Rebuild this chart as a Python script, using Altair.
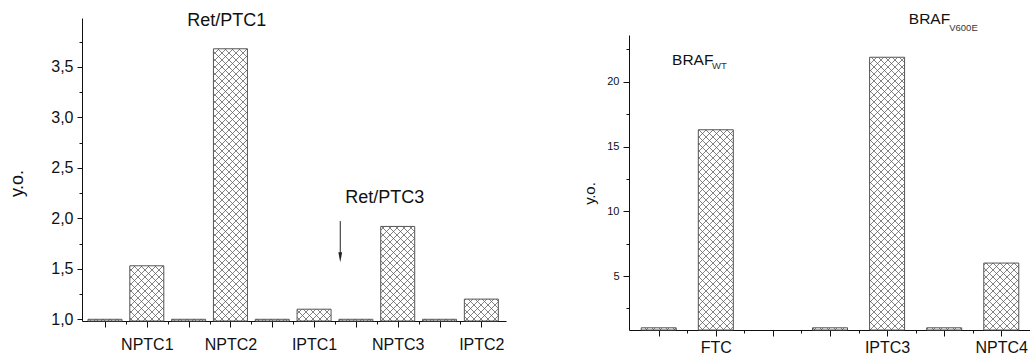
import json
import jinja2
import pandas as pd
import altair as alt

# ---------------- data ----------------
# Left panel (Ret/PTC): each sample group has a control bar (=1) and a sample bar
left_groups = ["NPTC1", "NPTC2", "IPTC1", "NPTC3", "IPTC2"]
left_control = [1.0, 1.0, 1.0, 1.0, 1.0]
left_sample = [1.53, 3.68, 1.10, 1.92, 1.20]
left_y_ticks = [1.0, 1.25, 1.5, 1.75, 2.0, 2.25, 2.5, 2.75, 3.0, 3.25, 3.5, 3.75]

# Right panel (BRAF)
right_groups = ["FTC", "IPTC3", "NPTC4"]
right_control = [1.0, 1.0, 1.0]
right_sample = [16.3, 21.9, 6.0]
right_slot_start = [1, 4, 6]          # slot of the control bar of each group
right_y_ticks = [2.5, 5, 7.5, 10, 12.5, 15, 17.5, 20, 22.5]

y_title = "у.о."

FONT = "Liberation Sans"
BAR_FILL = "url(#crosshatch)"
BAR_STROKE = "#555555"

LEFT_YMIN, LEFT_YMAX = 0.983, 3.985
RIGHT_YMIN, RIGHT_YMAX = 0.83, 23.62

# ---------------- left panel ----------------
rows = []
left_label_arr = [""] * 12
for i, (g, c, s) in enumerate(zip(left_groups, left_control, left_sample)):
    rows.append({"pos": 2 * i + 1, "value": c})
    rows.append({"pos": 2 * i + 2, "value": s})
    left_label_arr[2 * i + 2] = g
left_df = pd.DataFrame(rows)
left_x_ticks = [p / 2 for p in range(2, 21)]

lx = alt.X(
    "pos:Q",
    scale=alt.Scale(domain=[0.57, 10.47], nice=False, zero=False),
    axis=alt.Axis(
        values=left_x_ticks,
        title=None,
        grid=False,
        labelExpr="(datum.value % 1 == 0) ? " + json.dumps(left_label_arr) + "[datum.value] : ''",
        labelFontSize=16,
        labelPadding=9.5,
        labelOverlap=False,
        labelFlush=False,
        tickSize={"condition": {"test": "datum.value % 1 == 0", "value": 6}, "value": 3},
    ),
)
ly = alt.Y(
    "value:Q",
    scale=alt.Scale(domain=[LEFT_YMIN, LEFT_YMAX], nice=False, zero=False),
    axis=alt.Axis(
        values=left_y_ticks,
        title=y_title,
        titleFontSize=18,
        titleFontWeight="normal",
        titleX=-55.5,
        titleY=165,
        titleAlign="center",
        grid=False,
        labelExpr="abs(datum.value * 2 - round(datum.value * 2)) < 0.001 ? replace(format(datum.value, '.1f'), '.', ',') : ''",
        labelFontSize=16,
        labelPadding=4,
        labelOverlap=False,
        tickSize={"condition": {"test": "abs(datum.value * 2 - round(datum.value * 2)) < 0.001", "value": 5}, "value": 3},
    ),
)

left_bars = alt.Chart(left_df).mark_bar(
    size=34, fill=BAR_FILL, stroke=BAR_STROKE, strokeWidth=1
).encode(x=lx, y=ly, y2=alt.datum(LEFT_YMIN))

left_ann = pd.DataFrame({
    "pos": [3.91, 7.69],
    "value": [3.904, 2.149],
    "text": ["Ret/PTC1", "Ret/PTC3"],
})
left_text = alt.Chart(left_ann).mark_text(
    font=FONT, fontSize=18, align="center", baseline="alphabetic", color="#111"
).encode(x=lx, y=ly, text="text:N")

arrow_df = pd.DataFrame({"pos": [6.626], "value": [1.973], "value2": [1.615]})
arrow_head_df = pd.DataFrame({"pos": [6.626], "value": [1.615]})
arrow_line = alt.Chart(arrow_df).mark_rule(color="#222", strokeWidth=1).encode(
    x=lx, y=ly, y2=alt.Y2("value2:Q")
)
arrow_head = alt.Chart(arrow_head_df).mark_point(
    shape="M-0.38,-1 L0.38,-1 L0,1 Z", filled=True, size=100, color="#222", opacity=1
).encode(x=lx, y=ly)

left = alt.layer(left_bars, left_text, arrow_line, arrow_head).properties(width=424, height=303)

# ---------------- right panel ----------------
rrows = []
right_label_arr = [""] * 9
for g, c, s, st in zip(right_groups, right_control, right_sample, right_slot_start):
    rrows.append({"pos": st, "value": c})
    rrows.append({"pos": st + 1, "value": s})
    right_label_arr[st + 1] = g
right_df = pd.DataFrame(rrows)
right_x_ticks = [p / 2 for p in range(2, 15)]

rx = alt.X(
    "pos:Q",
    scale=alt.Scale(domain=[0.567, 7.433], nice=False, zero=False),
    axis=alt.Axis(
        values=right_x_ticks,
        title=None,
        grid=False,
        labelExpr="(datum.value % 1 == 0) ? " + json.dumps(right_label_arr) + "[datum.value] : ''",
        labelFontSize=16,
        labelPadding=3,
        labelOverlap=False,
        labelFlush=False,
        tickSize={"condition": {"test": "datum.value % 1 == 0", "value": 6}, "value": 3},
    ),
)
# plot area is 312 tall; the value axis occupies its lower 295 px
ry = alt.Y(
    "value:Q",
    scale=alt.Scale(domain=[RIGHT_YMIN, RIGHT_YMAX], range=[312, 17], nice=False, zero=False),
    axis=alt.Axis(
        values=right_y_ticks,
        title=y_title,
        titleFontSize=15,
        titleFontWeight="normal",
        titleX=-32,
        titleY=175,
        titleAlign="center",
        grid=False,
        labelExpr="(datum.value % 5 == 0) ? datum.label : ''",
        labelFontSize=11,
        labelPadding=4,
        labelOverlap=False,
        tickSize={"condition": {"test": "datum.value % 5 == 0", "value": 6}, "value": 3},
    ),
)

right_bars = alt.Chart(right_df).mark_bar(
    size=35, fill=BAR_FILL, stroke=BAR_STROKE, strokeWidth=1
).encode(x=rx, y=ry, y2=alt.datum(RIGHT_YMIN))

right_main = pd.DataFrame({"pos": [1.234, 5.38], "value": [21.32, 24.48], "text": ["BRAF", "BRAF"]})
right_sub = pd.DataFrame({"pos": [1.934, 6.088], "value": [20.99, 23.96], "text": ["WT", "V600E"]})
right_text = alt.Chart(right_main).mark_text(
    font=FONT, fontSize=15.5, align="left", baseline="alphabetic", color="#111"
).encode(x=rx, y=ry, text="text:N")
right_subtext = alt.Chart(right_sub).mark_text(
    font=FONT, fontSize=9.5, align="left", baseline="alphabetic", color="#333"
).encode(x=rx, y=ry, text="text:N")

right = alt.layer(right_bars, right_text, right_subtext).properties(width=402, height=312)

chart = (
    alt.hconcat(left, right, spacing=76)
    .properties(padding={"left": 0, "top": 3, "right": 0, "bottom": 0})
    .configure_view(stroke=None)
    .configure_axis(
        domainColor="#111",
        tickColor="#111",
        labelColor="#111",
        titleColor="#111",
        labelFont=FONT,
        titleFont=FONT,
        domainWidth=1,
        tickWidth=1,
    )
)

TEMPLATE = jinja2.Template("""<!DOCTYPE html>
<html>
<head>
  <meta charset="utf-8">
  <style>
    body { overflow: hidden; margin: 8px 0 8px 8px; }
  </style>
  <script type="text/javascript" src="{{ base_url }}/vega@{{ vega_version }}"></script>
  <script type="text/javascript" src="{{ base_url }}/vega-lite@{{ vegalite_version }}"></script>
  <script type="text/javascript" src="{{ base_url }}/vega-embed@{{ vegaembed_version }}"></script>
</head>
<body>
  <svg width="0" height="0" style="position:absolute">
    <defs>
      <pattern id="crosshatch" patternUnits="userSpaceOnUse" width="7" height="7">
        <rect width="7" height="7" fill="#ffffff"/>
        <path d="M0,0 L7,7 M7,0 L0,7" stroke="#5a5a5a" stroke-width="0.75"/>
      </pattern>
    </defs>
  </svg>
  <div id="{{ output_div }}"></div>
  <script type="text/javascript">
    var spec = {{ spec }};
    var embedOpt = {{ embed_options }};
    vegaEmbed("#{{ output_div }}", spec, embedOpt).catch(function (e) { document.body.innerText = String(e); });
  </script>
</body>
</html>""")

chart.save("out.html", embed_options={"renderer": "svg", "actions": False}, template=TEMPLATE)
